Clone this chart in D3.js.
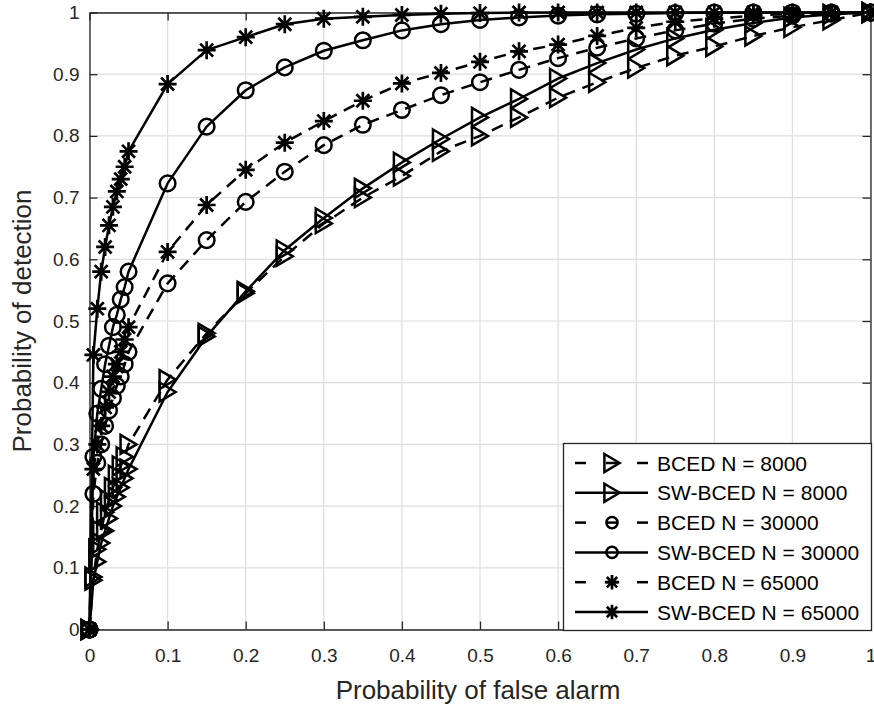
<!DOCTYPE html>
<html><head><meta charset="utf-8">
<script src="https://cdn.jsdelivr.net/npm/d3@7"></script>
<style>
html,body{margin:0;padding:0;background:#fff;}
svg{display:block;font-family:"Liberation Sans",Arial,Helvetica,sans-serif;}
</style></head>
<body><svg id="c" width="874" height="709"></svg>
<script>
const pfa = [0, 0.005, 0.01, 0.015, 0.02, 0.025, 0.03, 0.035, 0.04, 0.045, 0.05, 0.1, 0.15, 0.2, 0.25, 0.3, 0.35, 0.4, 0.45, 0.5, 0.55, 0.6, 0.65, 0.7, 0.75, 0.8, 0.85, 0.9, 0.95, 1];
const bced8000  = [0, 0.085, 0.13, 0.16, 0.19, 0.21, 0.23, 0.25, 0.265, 0.28, 0.30, 0.405, 0.48, 0.545, 0.605, 0.658, 0.70, 0.735, 0.775, 0.80, 0.83, 0.862, 0.887, 0.91, 0.93, 0.945, 0.962, 0.976, 0.988, 1];
const sw8000    = [0, 0.08, 0.11, 0.14, 0.16, 0.18, 0.20, 0.215, 0.23, 0.245, 0.26, 0.385, 0.475, 0.548, 0.615, 0.667, 0.715, 0.757, 0.795, 0.83, 0.86, 0.893, 0.918, 0.94, 0.958, 0.972, 0.983, 0.992, 0.997, 1];
const bced30000 = [0, 0.22, 0.27, 0.30, 0.33, 0.355, 0.375, 0.395, 0.41, 0.43, 0.45, 0.561, 0.631, 0.693, 0.742, 0.785, 0.818, 0.842, 0.866, 0.887, 0.907, 0.926, 0.943, 0.958, 0.971, 0.982, 0.99, 0.995, 0.998, 1];
const sw30000   = [0, 0.28, 0.35, 0.39, 0.43, 0.46, 0.49, 0.51, 0.535, 0.555, 0.58, 0.723, 0.815, 0.874, 0.911, 0.938, 0.955, 0.971, 0.981, 0.988, 0.992, 0.995, 0.997, 0.998, 0.999, 1, 1, 1, 1, 1];
const bced65000 = [0, 0.26, 0.30, 0.33, 0.36, 0.385, 0.41, 0.43, 0.45, 0.47, 0.49, 0.612, 0.688, 0.745, 0.789, 0.824, 0.857, 0.885, 0.902, 0.92, 0.937, 0.948, 0.962, 0.975, 0.985, 0.99, 0.995, 0.998, 0.999, 1];
const sw65000   = [0, 0.445, 0.52, 0.58, 0.62, 0.655, 0.685, 0.71, 0.73, 0.75, 0.775, 0.884, 0.939, 0.96, 0.981, 0.99, 0.993, 0.996, 0.998, 0.999, 1, 1, 1, 1, 1, 1, 1, 1, 1, 1];
const seriesNames = ["BCED N = 8000", "SW-BCED N = 8000", "BCED N = 30000", "SW-BCED N = 30000", "BCED N = 65000", "SW-BCED N = 65000"];
const seriesValues = [bced8000, sw8000, bced30000, sw30000, bced65000, sw65000];
const seriesMarkers = ["tri", "tri", "circle", "circle", "star", "star"];
const seriesDashed = [true, false, true, false, true, false];
const xTicks = [0, 0.1, 0.2, 0.3, 0.4, 0.5, 0.6, 0.7, 0.8, 0.9, 1];
const yTicks = [0, 0.1, 0.2, 0.3, 0.4, 0.5, 0.6, 0.7, 0.8, 0.9, 1];
const xLabel = "Probability of false alarm";
const yLabel = "Probability of detection";

const L = 89.5, R = 870.5, T = 12.5, B = 629.5;
const axisColor = "#262626";
const svg = d3.select("#c");
const x = d3.scaleLinear().domain([0, 1]).range([L, R]);
const y = d3.scaleLinear().domain([0, 1]).range([B, T]);

// grid
const grid = svg.append("g");
grid.selectAll("line.gx").data(xTicks).join("line")
  .attr("x1", d => x(d)).attr("x2", d => x(d)).attr("y1", T).attr("y2", B)
  .attr("stroke", "#dedede").attr("stroke-width", 1.2);
grid.selectAll("line.gy").data(yTicks).join("line")
  .attr("y1", d => y(d)).attr("y2", d => y(d)).attr("x1", L).attr("x2", R)
  .attr("stroke", "#dedede").attr("stroke-width", 1.2);

// axes
const tickLen = 8;
const fmt = d => (d === 0 || d === 1) ? String(d) : d3.format(".1f")(d);
const gx = svg.append("g").attr("transform", `translate(0,${B})`)
  .call(d3.axisBottom(x).tickValues(xTicks).tickFormat(fmt).tickSizeInner(-tickLen).tickSizeOuter(0).tickPadding(19));
const gxTop = svg.append("g").attr("transform", `translate(0,${T})`)
  .call(d3.axisTop(x).tickValues(xTicks).tickFormat("").tickSizeInner(-tickLen).tickSizeOuter(0));
const gy = svg.append("g").attr("transform", `translate(${L},0)`)
  .call(d3.axisLeft(y).tickValues(yTicks).tickFormat(fmt).tickSizeInner(-tickLen).tickSizeOuter(0).tickPadding(10));
const gyR = svg.append("g").attr("transform", `translate(${R},0)`)
  .call(d3.axisRight(y).tickValues(yTicks).tickFormat("").tickSizeInner(-tickLen).tickSizeOuter(0));
[gx, gxTop, gy, gyR].forEach(g => {
  g.select(".domain").attr("stroke", axisColor).attr("stroke-width", 1.3);
  g.selectAll(".tick line").attr("stroke", axisColor).attr("stroke-width", 1.3);
  g.selectAll(".tick text").attr("fill", axisColor).attr("font-size", 19).attr("font-family", "Liberation Sans, Arial, sans-serif");
});

svg.append("text").attr("x", 478).attr("y", 699).attr("text-anchor", "middle")
  .attr("font-size", 26).attr("fill", axisColor).text(xLabel);
svg.append("text").attr("transform", `translate(31,${(T + B) / 2}) rotate(-90)`).attr("text-anchor", "middle")
  .attr("font-size", 26).attr("fill", axisColor).text(yLabel);

// markers
function drawMarker(g, type, cx, cy, scale) {
  const s = scale || 1;
  if (type === "tri") {
    const h = 9.5 * s, w = 8 * s;
    g.append("path").attr("d", `M${cx - w},${cy - h}L${cx + w},${cy}L${cx - w},${cy + h}Z`)
      .attr("fill", "none").attr("stroke", "#000").attr("stroke-width", 2.5).attr("stroke-linejoin", "miter");
  } else if (type === "circle") {
    g.append("circle").attr("cx", cx).attr("cy", cy).attr("r", 7.8 * s)
      .attr("fill", "none").attr("stroke", "#000").attr("stroke-width", 2.5);
  } else {
    const a = 9 * s, b = a * 0.72;
    g.append("path").attr("d",
      `M${cx - a},${cy}L${cx + a},${cy}M${cx},${cy - a}L${cx},${cy + a}M${cx - b},${cy - b}L${cx + b},${cy + b}M${cx - b},${cy + b}L${cx + b},${cy - b}`)
      .attr("fill", "none").attr("stroke", "#000").attr("stroke-width", 2.7);
  }
}

const line = d3.line().x(d => x(d[0])).y(d => y(d[1]));
const plot = svg.append("g");
seriesValues.forEach((vals, i) => {
  const pts = pfa.map((p, k) => [p, vals[k]]);
  const g = plot.append("g");
  g.append("path").attr("d", line(pts)).attr("fill", "none").attr("stroke", "#000")
    .attr("stroke-width", 2.5).attr("stroke-dasharray", seriesDashed[i] ? "12,8" : null)
    .attr("stroke-linejoin", "round");
  pts.forEach(p => drawMarker(g, seriesMarkers[i], x(p[0]), y(p[1]), 1));
});

// legend
const lg = svg.append("g");
const lgX0 = 563, lgY0 = 443, lgW = 308, lgH = 187;
lg.append("rect").attr("x", lgX0 + 0.5).attr("y", lgY0 + 0.5).attr("width", lgW).attr("height", lgH)
  .attr("fill", "#fff").attr("stroke", axisColor).attr("stroke-width", 1.3);
seriesNames.forEach((name, i) => {
  const cy = lgY0 + 20 + i * 29.8;
  const segs = seriesDashed[i] ? [[575, 586], [606, 618], [637, 648]] : [[575, 648]];
  segs.forEach(s => lg.append("line").attr("x1", s[0]).attr("x2", s[1]).attr("y1", cy).attr("y2", cy)
    .attr("stroke", "#000").attr("stroke-width", 2.5));
  const ms = seriesMarkers[i] === "circle" ? 0.72 : (seriesMarkers[i] === "star" ? 0.8 : 0.95);
  drawMarker(lg, seriesMarkers[i], 612, cy, ms);
  lg.append("text").attr("x", 657).attr("y", cy).attr("dy", "0.36em")
    .attr("font-size", 21).attr("fill", "#000").text(name);
});
</script></body></html>
